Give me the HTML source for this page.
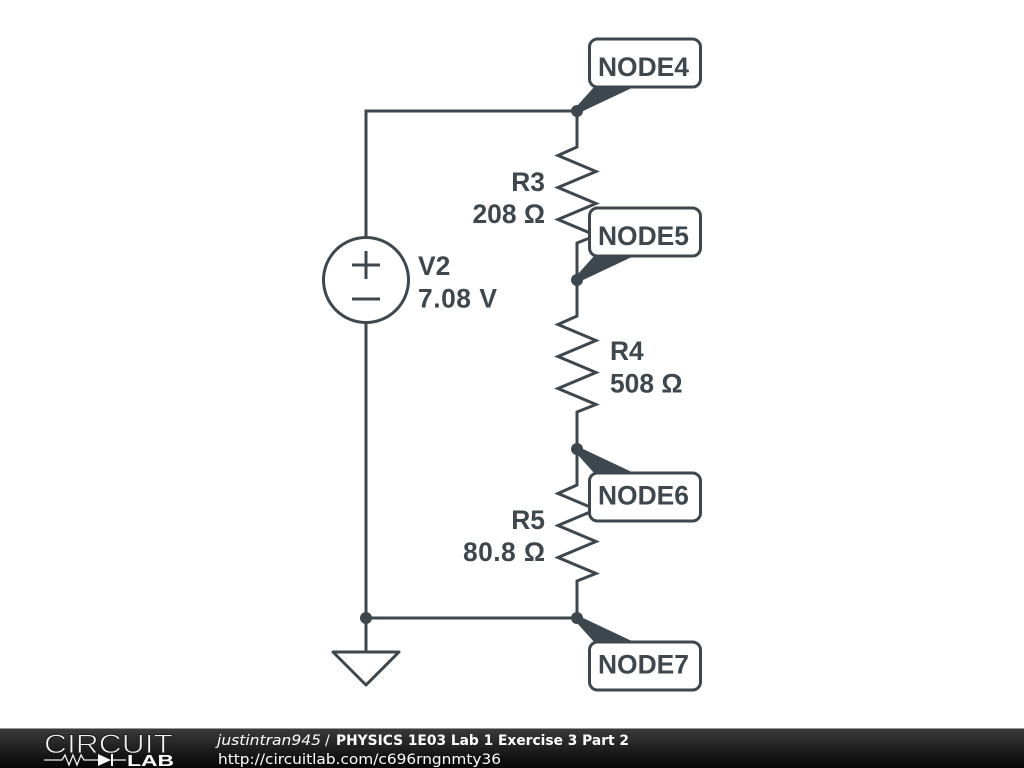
<!DOCTYPE html>
<html><head><meta charset="utf-8">
<style>
html,body{margin:0;padding:0;background:#fff;width:1024px;height:768px;overflow:hidden}
svg{display:block}
.t{font-family:"Liberation Sans",sans-serif;font-weight:bold;font-size:26.4px;fill:#3d474d}
.n{font-family:"Liberation Sans",sans-serif;font-weight:bold;font-size:26.4px;fill:#3d474d}
.f{font-family:"DejaVu Sans",sans-serif;font-size:14px;fill:#fff}
</style></head><body>
<svg width="1024" height="768" viewBox="0 0 1024 768" xmlns="http://www.w3.org/2000/svg">
<defs>
<linearGradient id="g" x1="0" y1="0" x2="0" y2="1"><stop offset="0" stop-color="#3a3a3a"/><stop offset="1" stop-color="#050505"/></linearGradient>
</defs>
<rect width="1024" height="768" fill="#fff"/>
<g fill="none" stroke="#3d474d" stroke-width="3" stroke-linejoin="miter">
<path d="M366 238V111H577V147L558 155.500L596 171.500L558 187.500L596 203.500L558 219.500L596 235.500L577 243V316L558 324.500L596 340.500L558 356.500L596 372.500L558 388.500L596 404.500L577 412V485L558 493.500L596 509.500L558 525.500L596 541.500L558 557.500L596 573.500L577 581V618H366V322M366 618V652"/>
<circle cx="366" cy="280" r="42.5"/>
<path d="M352 265H380M366 251V279M352 299H380"/>
<path d="M333 652H399L366 685Z" stroke-linejoin="round"/>
</g>
<g fill="#3d474d">
<circle cx="577" cy="111" r="6"/><circle cx="577" cy="280" r="6"/><circle cx="577" cy="449" r="6"/><circle cx="577" cy="618" r="6"/><circle cx="366" cy="618" r="6"/>
<path d="M577 106L595 86H636L581 112Z"/>
<path d="M577 275L595 255H636L581 281Z"/>
<path d="M577 454L595 474H636L581 448Z"/>
<path d="M577 623L595 643H636L581 617Z"/>
</g>
<g fill="#fff" stroke="#3d474d" stroke-width="3">
<rect x="589.500" y="39" width="111" height="48" rx="8"/>
<rect x="589.500" y="208" width="111" height="48" rx="8"/>
<rect x="589.500" y="473" width="111" height="48" rx="8"/>
<rect x="589.500" y="642" width="111" height="48" rx="8"/>
</g>
<text class="n" x="598" y="76">NODE4</text>
<text class="n" x="598" y="245">NODE5</text>
<text class="n" x="598" y="504.500">NODE6</text>
<text class="n" x="598" y="673.500">NODE7</text>
<text class="t" x="545" y="191" text-anchor="end">R3</text>
<text class="t" x="545" y="223" text-anchor="end">208 Ω</text>
<text class="t" x="418" y="275">V2</text>
<text class="t" x="418" y="307.500" textLength="79">7.08 V</text>
<text class="t" x="610" y="360">R4</text>
<text class="t" x="610" y="392.500">508 Ω</text>
<text class="t" x="545" y="529" text-anchor="end">R5</text>
<text class="t" x="463" y="561" textLength="82">80.8 Ω</text>
<rect y="729" width="1024" height="39" fill="url(#g)"/>
<rect y="728" width="1024" height="1" fill="#999"/>
<text x="44" y="753" font-family="'Liberation Sans',sans-serif" font-size="27" textLength="129" lengthAdjust="spacingAndGlyphs" fill="#f4f4f4" stroke="#1c1c1c" stroke-width="0.9">CIRCUIT</text>
<path d="M44 760H62L65 755L69 765L73 755L77 765L81 755L84 760H98" fill="none" stroke="#eee" stroke-width="1.3"/>
<path d="M98 754L111 760L98 766Z" fill="#fff"/>
<path d="M112 754V766" stroke="#fff" stroke-width="2"/>
<path d="M112 760H126" stroke="#eee" stroke-width="1.3"/>
<text x="127" y="766" font-family="'Liberation Sans',sans-serif" font-weight="bold" font-size="15.500" textLength="47" lengthAdjust="spacingAndGlyphs" fill="#fff">LAB</text>
<text class="f" x="217" y="745" font-style="italic" textLength="104" lengthAdjust="spacingAndGlyphs">justintran945</text>
<text class="f" x="325" y="745">/</text>
<text class="f" x="336" y="745" font-weight="bold" textLength="293" lengthAdjust="spacingAndGlyphs">PHYSICS 1E03 Lab 1 Exercise 3 Part 2</text>
<text class="f" x="218" y="764" textLength="283" lengthAdjust="spacingAndGlyphs">http://circuitlab.com/c696rngnmty36</text>
</svg>
</body></html>
